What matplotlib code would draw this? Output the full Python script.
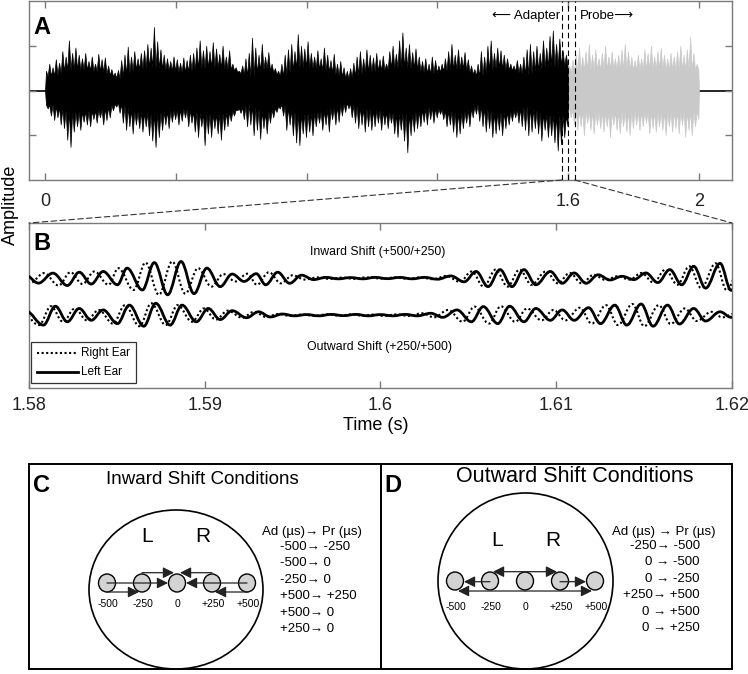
import numpy as np
import matplotlib
matplotlib.use('Agg')
import matplotlib.pyplot as plt
from matplotlib.path import Path
from matplotlib.patches import PathPatch, Ellipse, Rectangle, ConnectionPatch

W, H, DPI = 748, 674, 100
plt.rcParams['font.family'] = ['Liberation Sans', 'DejaVu Sans']

# ---------------- Panel A data: peak amplitude per 10-ms bin (x100) ----------------
bin_s = 0.01
adapter_hi = [22, 30, 26, 35, 31, 44, 38, 56, 42, 48,
              40, 36, 42, 33, 38, 30, 41, 35, 37, 28,
              24, 20, 23, 34, 40, 49, 38, 44, 36, 42,
              45, 52, 48, 71, 55, 46, 40, 36, 33, 38,
              35, 31, 37, 34, 40, 42, 48, 56, 45, 50,
              44, 54, 47, 41, 50, 38, 45, 30, 26, 22,
              28, 36, 42, 59, 48, 40, 52, 38, 43, 30,
              25, 22, 30, 40, 46, 52, 44, 63, 50, 47,
              55, 42, 38, 45, 36, 48, 40, 34, 41, 30,
              33, 26, 22, 25, 31, 38, 44, 36, 46, 40,
              37, 42, 35, 39, 30, 44, 50, 41, 56, 65,
              48, 52, 43, 47, 38, 33, 36, 30, 38, 34,
              28, 30, 36, 44, 52, 40, 46, 38, 43, 35,
              28, 24, 30, 44, 38, 50, 56, 42, 48, 45,
              40, 36, 30, 28, 34, 30, 38, 46, 52, 44,
              50, 42, 56, 48, 61, 67, 52, 58, 45, 40]
adapter_lo = [20, 28, 33, 30, 38, 42, 55, 63, 46, 40,
              44, 35, 38, 40, 32, 36, 30, 38, 33, 30,
              22, 18, 25, 36, 44, 40, 48, 38, 42, 46,
              40, 50, 56, 63, 52, 44, 38, 42, 35, 32,
              38, 34, 30, 40, 36, 46, 52, 40, 61, 48,
              52, 42, 48, 55, 44, 40, 34, 28, 22, 25,
              32, 40, 38, 50, 44, 54, 42, 48, 36, 30,
              24, 20, 28, 44, 38, 50, 58, 61, 48, 52,
              46, 50, 40, 36, 44, 38, 46, 32, 38, 35,
              28, 24, 20, 30, 36, 42, 38, 46, 40, 44,
              40, 36, 44, 38, 42, 36, 48, 52, 44, 56,
              69, 50, 46, 42, 40, 35, 38, 32, 36, 30,
              26, 32, 40, 38, 46, 52, 48, 42, 36, 40,
              30, 26, 34, 40, 46, 42, 52, 48, 44, 50,
              42, 38, 34, 30, 36, 40, 44, 50, 46, 42,
              48, 56, 44, 52, 50, 58, 67, 60, 52, 40]
probe_hi = [28, 34, 40, 48, 38, 44, 52, 40, 46, 36,
            42, 50, 38, 44, 36, 40, 46, 52, 44, 38,
            34, 40, 36, 46, 42, 50, 38, 44, 48, 40,
            36, 42, 38, 44, 50, 40, 46, 60, 42, 30]
probe_lo = [30, 38, 44, 40, 50, 36, 44, 48, 38, 42,
            46, 40, 52, 38, 44, 48, 40, 46, 50, 42,
            38, 44, 40, 36, 48, 42, 46, 40, 44, 50,
            40, 46, 42, 48, 38, 52, 44, 50, 40, 32]
# dense core half-height per 50-ms bin (x100)
core_s = 0.05
adapter_core = [16, 24, 23, 21, 13, 23, 26, 23, 20, 25, 26, 23, 15, 25, 15, 26,
                25, 20, 13, 20, 22, 26, 25, 18, 22, 25, 15, 25, 23, 17, 26, 28]
probe_core = [21, 23, 24, 23, 23, 24, 23, 23]
adapter_start, probe_start, probe_end = 0.0, 1.6, 2.0
xticks_A = [0, 0.4, 0.8, 1.2, 1.6, 2.0]
xticklabels_A = ['0', '', '', '', '1.6', '2']
yticks_A = [-0.5, 0, 0.5]
zoom_lines = [1.58, 1.60, 1.62]

# ---------------- Panel B data: extrema of left-ear waveform (ms after 1.58 s) ----------------
inward_t = [-0.2, 0.54, 1.36, 2.18, 2.86, 3.54, 4.22, 5.03, 5.58, 6.45, 7.13, 7.89, 8.65, 9.39,
            10.12, 10.88, 11.56, 12.24, 12.93, 13.47, 14.15, 14.83, 15.51, 16.19, 16.9, 17.6,
            18.3, 19.0, 19.7, 20.4, 21.1, 21.8, 22.5, 23.25, 24.0, 24.76, 25.44, 26.12, 26.80,
            27.48, 28.16, 28.84, 29.66, 30.34, 31.02, 31.70, 32.38, 33.06, 33.74, 34.42, 35.10,
            35.78, 36.46, 37.14, 37.82, 38.50, 39.32, 39.95, 40.7]
inward_a = [0.08, -0.135, 0.135, -0.20, 0.16, -0.16, 0.18, -0.18, 0.27, -0.32, 0.42, -0.45, 0.45, -0.42,
            0.27, -0.23, 0.11, -0.09, 0.12, -0.18, 0.16, -0.14, 0.08, -0.04, 0.02, -0.02,
            0.015, -0.02, 0.02, -0.015, 0.02, -0.02, 0.02, -0.03, 0.06, -0.10, 0.18, -0.23, 0.23,
            -0.23, 0.23, -0.18, 0.18, -0.14, 0.14, -0.14, 0.09, -0.05, 0.05, -0.04, 0.14,
            -0.12, 0.23, -0.18, 0.32, -0.27, 0.40, -0.33, 0.30]
outward_t = [-0.2, 0.82, 1.50, 2.18, 2.86, 3.54, 4.22, 5.03, 5.71, 6.53, 7.21, 8.03, 8.71, 9.52,
             10.20, 10.88, 11.56, 12.38, 13.06, 13.74, 14.42, 15.1, 15.8, 16.5, 17.2, 17.9,
             18.6, 19.3, 20.0, 20.7, 21.4, 22.1, 22.86, 23.54, 24.35, 25.17, 25.85, 26.67,
             27.35, 28.16, 28.84, 29.66, 30.34, 31.02, 31.84, 32.52, 33.33, 34.01, 34.83,
             35.51, 36.33, 37.01, 37.82, 38.50, 39.32, 39.95, 40.7]
outward_a = [0.12, -0.27, 0.24, -0.18, 0.18, -0.14, 0.14, -0.23, 0.27, -0.30, 0.32, -0.27, 0.27, -0.18,
             0.18, -0.12, 0.12, -0.07, 0.09, -0.05, 0.03, -0.02, 0.015, -0.02, 0.02, -0.015,
             0.02, -0.02, 0.015, -0.02, 0.02, -0.02, 0.05, -0.06, 0.14, -0.18, 0.23, -0.23,
             0.24, -0.18, 0.18, -0.14, 0.14, -0.14, 0.20, -0.23, 0.27, -0.27, 0.30,
             -0.30, 0.27, -0.24, 0.18, -0.16, 0.09, -0.06, 0.05]
inward_itd_us = (500, 250)    # (adapter, probe); right ear leads
outward_itd_us = (250, 500)
window_start, window_end, switch_ms = 1.58, 1.62, 20.0
xticks_B = [1.58, 1.59, 1.60, 1.61, 1.62]
xticklabels_B = ['1.58', '1.59', '1.6', '1.61', '1.62']

# ---------------- Panels C / D data ----------------
itd_positions = [-500, -250, 0, 250, 500]
itd_labels = ['-500', '-250', '0', '+250', '+500']
inward_adapter = [-500, -500, -250, 500, 500, 250]
inward_probe = [-250, 0, 0, 250, 0, 0]
outward_adapter = [-250, 0, 0, 250, 0, 0]
outward_probe = [-500, -500, -250, 500, 500, 250]

# ---------------- figure ----------------
fig = plt.figure(figsize=(W / DPI, H / DPI), dpi=DPI)


def px_rect(x0, y0, x1, y1):
    return [x0 / W, 1 - y1 / H, (x1 - x0) / W, (y1 - y0) / H]


axA = fig.add_axes(px_rect(29, 1, 732, 180))
axB = fig.add_axes(px_rect(29, 223, 732, 388))
ax0 = fig.add_axes([0, 0, 1, 1], zorder=10)
ax0.set_xlim(0, W)
ax0.set_ylim(H, 0)
ax0.axis('off')
ax0.patch.set_visible(False)

SPINE = '#7a7a7a'
for ax in (axA, axB):
    for s in ax.spines.values():
        s.set_color(SPINE)
        s.set_linewidth(1.0)
    ax.tick_params(direction='in', length=5, width=1.0, color=SPINE,
                   labelsize=13, labelcolor='#222222', top=True)
axA.tick_params(axis='x', pad=9)
axB.tick_params(axis='x', pad=6.5)


def noise_band(start, hi, lo, core_vals):
    """Upper/lower outline: bin peaks alternating with the dense core level."""
    n = len(hi)
    idx = np.arange(n)
    cx = start + (np.arange(len(core_vals)) + 0.5) * core_s
    cv = np.asarray(core_vals) / 100.0
    x = np.empty(2 * n)
    x[0::2] = start + (idx + 0.3) * bin_s
    x[1::2] = start + (idx + 0.8) * bin_s
    c_mid = np.interp(x[1::2], cx, cv)
    up = np.empty(2 * n)
    dn = np.empty(2 * n)
    up[0::2] = np.asarray(hi) / 100.0
    up[1::2] = c_mid
    dn[1::2] = -np.asarray(lo) / 100.0
    dn[0::2] = -np.interp(x[0::2], cx, cv)
    # lower peaks sit at the 'mid' positions: swap order so spikes alternate
    x = np.concatenate([[start], x, [start + n * bin_s]])
    up = np.concatenate([[0], up, [0]])
    dn = np.concatenate([[0], dn, [0]])
    return x, up, dn


# Panel A
axA.axhline(0, color='black', lw=1.2, zorder=1)
for start, hi, lo, cv, col, z in ((adapter_start, adapter_hi, adapter_lo, adapter_core, 'black', 3),
                                  (probe_start, probe_hi, probe_lo, probe_core, '#c9c9c9', 2)):
    x, up, dn = noise_band(start, hi, lo, cv)
    axA.fill_between(x, dn, up, color=col, lw=0.5, edgecolor=col, zorder=z)
for xl in zoom_lines:
    axA.axvline(xl, color='black', lw=0.8, ls=(0, (5, 3)), zorder=4)
axA.set_xlim(-0.049, 2.101)
axA.set_ylim(-1, 1)
axA.set_xticks(xticks_A)
axA.set_xticklabels(xticklabels_A)
axA.set_yticks(yticks_A)
axA.set_yticklabels([])
axA.tick_params(axis='y', right=True, left=True)

# Panel B
OFF_TOP, OFF_BOT = 0.5, -0.5


def wave_path(t_ms, amp, offset, itd=None):
    ts = []
    for t in t_ms:
        shift = 0.0
        if itd is not None:
            shift = (itd[0] if t < switch_ms else itd[1]) / 1000.0
        ts.append(window_start + (t - shift) / 1000.0)
    verts = [(ts[0], offset + amp[0])]
    codes = [Path.MOVETO]
    k = 0.3634
    for i in range(1, len(ts)):
        t0, t1 = ts[i - 1], ts[i]
        a0, a1 = offset + amp[i - 1], offset + amp[i]
        d = t1 - t0
        verts += [(t0 + k * d, a0), (t1 - k * d, a1), (t1, a1)]
        codes += [Path.CURVE4] * 3
    return Path(verts, codes)


for t_ms, amp, off, itd in ((inward_t, inward_a, OFF_TOP, inward_itd_us),
                            (outward_t, outward_a, OFF_BOT, outward_itd_us)):
    axB.add_patch(PathPatch(wave_path(t_ms, amp, off, itd), fill=False, ec='black',
                            lw=1.5, ls=(0, (1, 1.2)), zorder=2))
    axB.add_patch(PathPatch(wave_path(t_ms, amp, off), fill=False, ec='black',
                            lw=2.0, zorder=3))
axB.set_xlim(window_start, window_end)
axB.set_ylim(-2.47, 1.99)
axB.set_xticks(xticks_B)
axB.set_xticklabels(xticklabels_B)
axB.set_yticks([])

# connectors between A and B
for xa_, xb_ in ((zoom_lines[0], 0.0), (zoom_lines[-1], 1.0)):
    con = ConnectionPatch(xyA=(xa_, -1), coordsA=axA.transData,
                          xyB=(xb_, 1), coordsB=axB.transAxes,
                          color='#333333', lw=0.8, ls=(0, (5, 3)))
    fig.add_artist(con)

# ---------------- texts (pixel coordinates) ----------------
ax0.text(33, 27, 'A', fontsize=17, fontweight='bold', ha='left', va='center')
ax0.text(33, 243, 'B', fontsize=17, fontweight='bold', ha='left', va='center')
ax0.text(10, 205, 'Amplitude', fontsize=13, rotation=90, ha='center', va='center')
ax0.text(376, 425, 'Time (s)', fontsize=13, ha='center', va='center')
ax0.text(560, 16, '\u27f5 Adapter', fontsize=9.5, ha='right', va='center')
ax0.text(580, 16, 'Probe\u27f6', fontsize=9.5, ha='left', va='center')
ax0.text(378, 252, 'Inward Shift (+500/+250)', fontsize=8.8, ha='center', va='center')
ax0.text(380, 347, 'Outward Shift (+250/+500)', fontsize=8.8, ha='center', va='center')

# legend of panel B
ax0.add_patch(Rectangle((31, 342), 105, 41, fill=False, ec='#333333', lw=0.9))
ax0.plot([37, 78], [353, 353], color='black', lw=1.5, ls=(0, (1, 1.2)))
ax0.plot([37, 78], [372, 372], color='black', lw=2.0)
ax0.text(81, 353, 'Right Ear', fontsize=8.5, ha='left', va='center')
ax0.text(81, 372, 'Left Ear', fontsize=8.5, ha='left', va='center')


# ---------------- panels C and D ----------------
def fmt(v):
    return '0' if v == 0 else '%+d' % v


def draw_condition_panel(box, letter, letter_xy, title, title_xy, title_fs, ell, lr_y, lr_x,
                         cx0, dot_y, label_y, rows_y, adapters, probes, rows, header, header_xy,
                         lines_x, lines_y0, ha_lines, spaced):
    ax0.add_patch(Rectangle(box[:2], box[2], box[3], fill=False, ec='black', lw=1.4))
    ax0.text(*letter_xy, letter, fontsize=17, fontweight='bold', ha='left', va='center')
    ax0.text(*title_xy, title, fontsize=title_fs, ha='center', va='center')
    ax0.add_patch(Ellipse(ell[:2], ell[2], ell[3], fill=False, ec='black', lw=1.2))
    ax0.text(lr_x[0], lr_y, 'L', fontsize=15, ha='center', va='center')
    ax0.text(lr_x[1], lr_y, 'R', fontsize=15, ha='center', va='center')
    scale = 0.14
    for pos, lab in zip(itd_positions, itd_labels):
        x = cx0 + scale * pos
        ax0.add_patch(Ellipse((x, dot_y), 17, 18, fc='#d3d3d3', ec='black', lw=1.0, zorder=2))
        ax0.text(x + 1, label_y, lab, fontsize=7.5, ha='center', va='center')
    for a, p, r in zip(adapters, probes, rows):
        xs = cx0 + scale * a
        xp_ = cx0 + scale * p
        sgn = 1 if p > a else -1
        gap = 9 if r == 1 else 3
        y = rows_y[r]
        ax0.annotate('', xy=(xp_ - sgn * gap, y), xytext=(xs, y),
                     arrowprops=dict(arrowstyle='-|>,head_length=0.6,head_width=0.3',
                                     color='#222222', lw=0.9, shrinkA=0, shrinkB=0,
                                     mutation_scale=11), zorder=3)
    ax0.text(*header_xy, header, fontsize=9.5, ha='left', va='center')
    for i, (a, p) in enumerate(zip(adapters, probes)):
        sep = ' ' if (spaced and a == 0) else ''
        ax0.text(lines_x, lines_y0 + 16.4 * i, '%s%s\u2192 %s' % (fmt(a), sep, fmt(p)),
                 fontsize=9.5, ha=ha_lines, va='center')


# rows: 0 = top, 1 = middle, 2 = bottom
draw_condition_panel(box=(29, 464, 352, 205), letter='C', letter_xy=(33, 486),
                     title='Inward Shift Conditions', title_xy=(202, 479), title_fs=13.5,
                     ell=(176, 589.5, 174, 159), lr_y=536, lr_x=(147, 203),
                     cx0=177, dot_y=583, label_y=604, rows_y=(572.7, 583, 592),
                     adapters=inward_adapter, probes=inward_probe, rows=[2, 1, 0, 2, 1, 0],
                     header='Ad (\u00b5s)\u2192 Pr (\u00b5s)', header_xy=(262, 532),
                     lines_x=280, lines_y0=547, ha_lines='left', spaced=False)
draw_condition_panel(box=(381, 464, 351, 205), letter='D', letter_xy=(384, 485),
                     title='Outward Shift Conditions', title_xy=(575, 477), title_fs=15.5,
                     ell=(525.5, 581, 175, 176), lr_y=540, lr_x=(497, 553),
                     cx0=525, dot_y=581, label_y=607, rows_y=(571.7, 581.7, 591),
                     adapters=outward_adapter, probes=outward_probe, rows=[1, 2, 0, 1, 2, 0],
                     header='Ad (\u00b5s) \u2192 Pr (\u00b5s)', header_xy=(612, 532),
                     lines_x=700, lines_y0=546, ha_lines='right', spaced=True)

fig.savefig('out.png', dpi=DPI)
